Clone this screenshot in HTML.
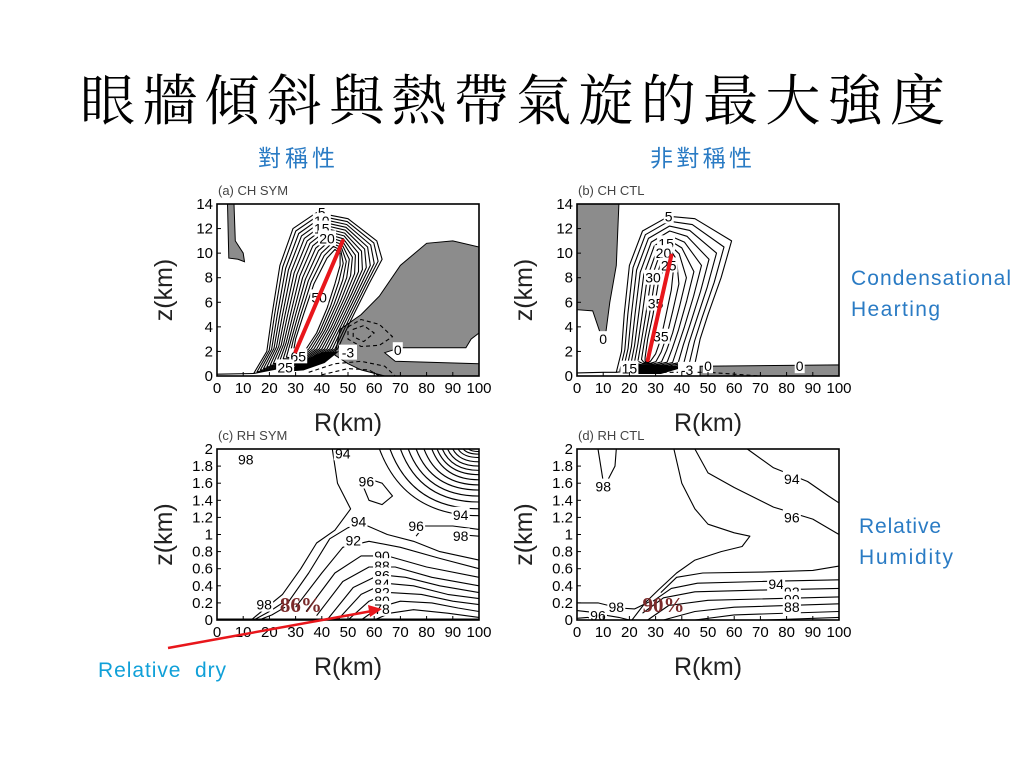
<!DOCTYPE html>
<html><head><meta charset="utf-8">
<style>
html,body{margin:0;padding:0;background:#fff;}
svg{display:block;}
text{font-family:"Liberation Sans","Noto Sans CJK TC",sans-serif;}
</style></head>
<body>
<svg id="s" width="1024" height="768" viewBox="0 0 1024 768" xmlns="http://www.w3.org/2000/svg">
<text x="80" y="120" font-size="55" textLength="865" lengthAdjust="spacing" style="font-family:'Noto Serif CJK SC','Noto Serif CJK TC',serif">眼牆傾斜與熱帶氣旋的最大強度</text>
<text x="258" y="166" font-size="23" textLength="77" fill="#2a7bc4">對稱性</text>
<text x="650" y="166" font-size="23" textLength="102" fill="#2a7bc4">非對稱性</text>
<text x="851" y="285" font-size="21" textLength="160" fill="#2a7bc4">Condensational</text>
<text x="851" y="316" font-size="21" textLength="89" fill="#2a7bc4">Hearting</text>
<text x="859" y="533" font-size="21" textLength="82" fill="#2a7bc4">Relative</text>
<text x="859" y="564" font-size="21" textLength="94" fill="#2a7bc4">Humidity</text>
<text x="98" y="677" font-size="21" textLength="128" fill="#10a0d8" xml:space="preserve">Relative  dry</text>
</svg>
<script>
const xTicks=[0,10,20,30,40,50,60,70,80,90,100];
const zTicksTop=[0,2,4,6,8,10,12,14];
const zTicksBot=["0","0.2","0.4","0.6","0.8","1","1.2","1.4","1.6","1.8","2"];
// panel a contours
const aOuter=[[14,0.2],[19,2],[21,5],[24,9],[29,12],[38,13.3],[50,12.8],[61,11],[63,9.5],[58,7.5],[51,4.5],[46,2.2],[38,1.2],[28,0.8]];
const aInner=[[29,1.8],[30,3],[33,5],[37,7.5],[42,9.6],[45,10.3],[47,10],[47,9],[45,7.5],[42,5.5],[38,3.5],[34,2.2],[31,1.6],[29,1.6]];
const aLevels=13;
const aGrayLeft=[[4,14],[6.5,14],[7,11],[10,10],[10.5,9.3],[8,9.5],[4.5,9.6]];
const aGrayRight=[[47,3.8],[55,5],[62,6.5],[70,9],[80,10.8],[90,11],[100,10.5],[100,3.5],[97,3],[95,2.3],[70,2.3],[64,1.9],[68,1.2],[100,1],[100,0],[64,0],[55,0.5],[50,1],[45,1.7]];
const aBlack=[[27,0.4],[34,1.3],[40,1.9],[46,1.95],[41,1.1],[33,0.5]];
const aDashed=[[[50,4],[55,4.6],[62,4.2],[67,3.2],[62,2.5],[55,2.4],[50,3]],[[52,3.8],[56,4.1],[60,3.5],[56,2.8],[52,3.2]],[[35,0.3],[45,1],[55,1.2],[64,0.8],[68,0]],[[40,0.1],[50,0.6],[58,0.5],[62,0]]];
const aTilt=[[30,2],[48,11]];
// panel b
const bOuter=[[15,0.3],[17,2],[18,5],[20,9],[25,11.8],[35,13],[45,12.8],[59,11],[55,8],[50,5],[47,3],[45,1],[35,0.6],[22,0.5]];
const bInner=[[26,1.5],[27,3],[29,5],[31,7.5],[34,9.4],[36,9.8],[37,9],[36,7],[34,5],[32,3],[30,1.8],[28,1.2],[27,1.1],[26,1.2]];
const bLevels=9;
const bGrayLeft=[[0,14],[16,14],[15,9],[12.5,6],[11,3.5],[9,3.4],[6,5.3],[0,5.4]];
const bGrayBottom=[[47,0],[47,0.8],[100,0.9],[100,0]];
const bBlack=[[23,0.2],[23,0.9],[30,0.9],[40,0.7],[32,0.2]];
const bTilt=[[27,1.3],[36,9.8]];
// panel c
const cLines=[
[[44,2],[46,1.6],[51,1.3],[45,1.05],[38,0.9],[32,0.6],[25,0.3],[13,0]],
[[27,0.2],[35,0.55],[43,0.95],[50,1.08],[56,1.12],[65,1.0],[75,0.92],[85,0.8],[100,0.7]],
[[30,0.15],[40,0.55],[48,0.85],[58,0.92],[70,0.85],[85,0.72],[100,0.6]],
[[34,0.1],[45,0.55],[55,0.75],[65,0.75],[80,0.62],[100,0.5]],
[[38,0.05],[48,0.45],[58,0.62],[68,0.62],[82,0.5],[100,0.4]],
[[42,0],[52,0.38],[62,0.53],[72,0.5],[85,0.4],[100,0.32]],
[[46,0],[55,0.3],[64,0.43],[75,0.4],[88,0.3],[100,0.25]],
[[50,0],[58,0.22],[66,0.32],[78,0.3],[90,0.22],[100,0.18]],
[[55,0],[62,0.15],[70,0.22],[82,0.2],[92,0.14],[100,0.1]],
[[60,0],[66,0.08],[75,0.12],[88,0.08],[100,0.03]],
[[0,0.01],[30,0.01],[60,0.01],[100,0.01]],
[[76,0.98],[79,1.1],[90,1.1],[100,1.06]],
[[92,1.0],[100,0.98]],
[[56,1.55],[58,1.4],[63,1.35],[67,1.45],[63,1.6],[58,1.65]],
[[14,0],[20,0.1],[25,0.2]],
[[16,0],[21,0.06],[26,0.15]]];
const cArcTop=[62,66,70,73,76,79,82,84,86,88,90,92,94,96];
const cArcRight=[1.22,1.3,1.38,1.45,1.52,1.58,1.64,1.7,1.75,1.8,1.85,1.9,1.94,1.97];
// panel d
const dLines=[
[[8,2],[10,1.62]],[[15,2],[14.5,1.8],[12,1.65]],
[[37,2],[40,1.6],[45,1.3],[50,1.12],[60,1.02],[66,0.98],[63,0.86],[55,0.8],[45,0.7],[38,0.55],[31,0.35],[26,0.2],[21,0]],
[[45,2],[50,1.72],[60,1.55],[75,1.32],[90,1.18],[100,1.0]],
[[65,2],[75,1.78],[88,1.62],[96,1.45],[100,1.37]],
[[32,0.32],[38,0.5],[48,0.55],[70,0.56],[90,0.58],[100,0.63]],
[[29,0.22],[36,0.37],[46,0.43],[70,0.45],[100,0.47]],
[[25,0.08],[33,0.26],[45,0.33],[70,0.35],[100,0.37]],
[[27,0],[35,0.17],[50,0.23],[100,0.27]],
[[33,0],[45,0.1],[60,0.15],[100,0.19]],
[[45,0],[60,0.06],[100,0.1]],
[[72,0],[100,0.03]],
[[0,0.2],[8,0.2],[16,0.14],[22,0.13],[28,0.22]],
[[0,0.11],[6,0.09],[12,0.05],[16,0.03],[20,0]],
[[0,0.02],[4,0.03],[7,0]]];

const svg=document.getElementById('s');
const NS='http://www.w3.org/2000/svg';
function mk(tag,attrs,parent){const e=document.createElementNS(NS,tag);for(const k in attrs)e.setAttribute(k,attrs[k]);(parent||svg).appendChild(e);return e;}
function panel(x0,yb,yt,zmax){return {sx:r=>x0+r*2.62,sy:z=>yb-(z/zmax)*(yb-yt),x0,yb,yt};}
const P={a:panel(217,376,204,14),b:panel(577,376,204,14),c:panel(217,620,449,2),d:panel(577,620,449,2)};
function pts(p,arr){return arr.map(q=>p.sx(q[0]).toFixed(1)+','+p.sy(q[1]).toFixed(1)).join(' ');}
function poly(p,arr,fill,name){const e=mk('polygon',{points:pts(p,arr),fill:fill,stroke:'#000','stroke-width':1});

return e;}
function line(p,arr,name,dash,closed){const e=mk(closed?'polygon':'polyline',{points:pts(p,arr),fill:'none',stroke:'#000','stroke-width':1.1,'stroke-linejoin':'round'});if(dash)e.setAttribute('stroke-dasharray','4,3');

return e;}
function nested(p,outer,inner,n,name){for(let i=0;i<n;i++){const t=i/(n-1);const arr=outer.map((o,j)=>[o[0]+(inner[j][0]-o[0])*t,o[1]+(inner[j][1]-o[1])*t]);line(p,arr,name+'-'+i,false,true);}}
function lbl(p,r,z,s,name,size,col,bg,bold){if(bg){const b=mk('rect',{x:p.sx(r)-s.length*4-1,y:p.sy(z)-8,width:s.length*8+2,height:15,fill:'#fff'});

}
const t=mk('text',{x:p.sx(r),y:p.sy(z)+5,'font-size':size||14,'text-anchor':'middle',fill:col||'#000'});t.textContent=s;
if(bold){t.setAttribute('font-weight','bold');t.setAttribute('style','font-family:"Liberation Serif",serif');}

return t;}
function tilt(p,arr,name){const e=mk('line',{x1:p.sx(arr[0][0]),y1:p.sy(arr[0][1]),x2:p.sx(arr[1][0]),y2:p.sy(arr[1][1]),stroke:'#e8161b','stroke-width':4,'stroke-linecap':'round'});

}
function axes(p,key,zt,zmax,title){
  const f=mk('rect',{x:p.x0,y:p.yt,width:262,height:p.yb-p.yt,fill:'none',stroke:'#000','stroke-width':1.6});
  
  
  xTicks.forEach(v=>{const t=mk('text',{x:p.sx(v),y:p.yb+17,'font-size':15,'text-anchor':'middle'});t.textContent=v;
    
    
    const m=mk('line',{x1:p.sx(v),x2:p.sx(v),y1:p.yb,y2:p.yb-4,stroke:'#000'});
    
    });
  zt.forEach((v,i)=>{const z=zmax===14?v:parseFloat(v);const t=mk('text',{x:p.x0-4,y:p.sy(z)+5,'font-size':15,'text-anchor':'end'});t.textContent=v;
    
    
    const m=mk('line',{x1:p.x0,x2:p.x0+4,y1:p.sy(z),y2:p.sy(z),stroke:'#000'});
    
    });
  const xt=mk('text',{x:p.x0+131,y:p.yb+55,'font-size':25,'text-anchor':'middle',fill:'#222'});xt.textContent='R(km)';
  
  
  const cy=(p.yb+p.yt)/2;
  const yt=mk('text',{x:p.x0-45,y:cy,'font-size':25,'text-anchor':'middle',transform:'rotate(-90 '+(p.x0-45)+' '+cy+')',fill:'#222'});yt.textContent='z(km)';
  
  
  const pt=mk('text',{x:p.x0+1,y:p.yt-9,'font-size':13,fill:'#444'});pt.textContent=title;
  
  
}
// Panel a
let p=P.a;
poly(p,aGrayLeft,'#8c8c8c','gray-region-left-a');
poly(p,aGrayRight,'#8c8c8c','gray-region-right-a');
nested(p,aOuter,aInner,aLevels,'heating-contour-a');
poly(p,aBlack,'#000','dense-region-a');
aDashed.forEach((d,i)=>line(p,d,'dashed-contour-a-'+i,true,i<2));
line(p,[[0,0.15],[14,0.2]],'surface-contour-a');
[['5',40,13.3],['10',40,12.6],['15',40,12],['20',42,11.2],['50',39,6.4],['65',31,1.6],['25',26,0.7],['-3',50,1.9],['0',69,2.1]].forEach((l,i)=>lbl(p,l[1],l[2],l[0],'contour-label-a-'+i,14,'#000',true));
tilt(p,aTilt,'eyewall-tilt-a');
axes(p,'a',zTicksTop,14,'(a)  CH  SYM');
// Panel b
p=P.b;
poly(p,bGrayLeft,'#8c8c8c','gray-region-left-b');
poly(p,bGrayBottom,'#8c8c8c','gray-region-bottom-b');
line(p,[[0,0.25],[10,0.3],[15,0.3]],'surface-contour-b');
nested(p,bOuter,bInner,bLevels,'heating-contour-b');
poly(p,bBlack,'#000','dense-region-b');
line(p,[[30,0.3],[50,0.3],[70,0]],'dashed-contour-b',true);
[['5',35,13],['15',34,10.8],['20',33,10],['25',35,9],['30',29,8],['35',30,5.9],['35',32,3.2],['15',20,0.6],['-3',42,0.5],['0',50,0.8],['0',85,0.8],['0',10,3]].forEach((l,i)=>lbl(p,l[1],l[2],l[0],'contour-label-b-'+i,14,'#000',true));
tilt(p,bTilt,'eyewall-tilt-b');
axes(p,'b',zTicksTop,14,'(b)  CH  CTL');
// Panel c
p=P.c;
cLines.forEach((l,i)=>line(p,l,'rh-contour-c-'+i,false,i===13));
cArcTop.forEach((x,i)=>{const z=cArcRight[i];const e=mk('path',{d:'M'+p.sx(x)+','+p.sy(2)+' Q'+p.sx(x+(100-x)*0.25)+','+p.sy(z)+' '+p.sx(100)+','+p.sy(z),fill:'none',stroke:'#000','stroke-width':1.1});

});
[['98',11,1.88],['94',48,1.95],['96',57,1.62],['94',54,1.15],['92',52,0.93],['90',63,0.75],['88',63,0.63],['86',63,0.52],['84',63,0.42],['82',63,0.32],['80',63,0.22],['78',63,0.13],['98',18,0.18],['96',76,1.1],['94',93,1.23],['98',93,0.98]].forEach((l,i)=>lbl(p,l[1],l[2],l[0],'rh-label-c-'+i,14,'#000',true));
lbl(p,32,0.15,'86%','dry-percent-c',21,'#7a2a2a',false,true);
axes(p,'c',zTicksBot,2,'(c)  RH  SYM');
// Panel d
p=P.d;
dLines.forEach((l,i)=>line(p,l,'rh-contour-d-'+i));
[['98',10,1.56],['94',82,1.65],['96',82,1.2],['94',76,0.42],['92',82,0.33],['90',82,0.24],['88',82,0.15],['98',15,0.15],['96',8,0.05]].forEach((l,i)=>lbl(p,l[1],l[2],l[0],'rh-label-d-'+i,14,'#000',true));
lbl(p,33,0.15,'90%','dry-percent-d',21,'#7a2a2a',false,true);
axes(p,'d',zTicksBot,2,'(d)  RH  CTL');
// arrow
const ar=mk('line',{x1:168,y1:648,x2:372,y2:611,stroke:'#e8161b','stroke-width':2.5});


const ah=mk('polygon',{points:'382,609 368,605 370,617',fill:'#e8161b'});


</script>
</body></html>
